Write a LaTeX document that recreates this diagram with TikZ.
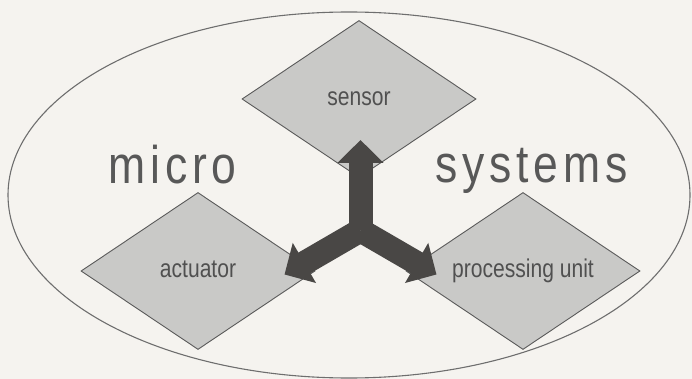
\documentclass[tikz,border=0pt]{standalone}
\usepackage{fontspec}
\setmainfont{Liberation Sans}
\newfontfamily\narrowfont[FakeStretch=0.82]{Liberation Sans}
\newfontfamily\titlefont[FakeStretch=0.84,LetterSpace=9]{Liberation Sans}
\usetikzlibrary{shapes.geometric,arrows.meta}
\definecolor{paper}{HTML}{F5F3EF}
\definecolor{boxfill}{HTML}{C9C9C7}
\definecolor{boxline}{HTML}{5A5A5A}
\definecolor{arrowgray}{HTML}{494745}
\definecolor{inkgray}{HTML}{505050}
\definecolor{titlegray}{HTML}{585858}
\definecolor{rimgray}{HTML}{6E6E6E}
\begin{document}
\begin{tikzpicture}[x=1pt,y=-1pt,
  unitbox/.style={diamond, draw=boxline, fill=boxfill, line width=0.9pt,
    minimum width=234pt, minimum height=157pt, inner sep=0pt, text=inkgray,
    font=\narrowfont\fontsize{25.7}{30}\selectfont, text height=13pt, text depth=0pt},
  bigword/.style={anchor=base, inner sep=0pt, text=titlegray,
    font=\titlefont\fontsize{53}{60}\selectfont},
  flow/.style={draw=arrowgray, fill=arrowgray, line width=24pt, line cap=butt,
    -{Triangle[width=45pt,length=23pt]}}]
  % page
  \fill[paper] (0,0) rectangle (692,379);
  \useasboundingbox (0,0) rectangle (692,379);
  % outer ellipse
  \node[ellipse, draw=rimgray, line width=1.1pt, minimum width=682pt,
        minimum height=366pt, inner sep=0pt] (frame) at (349,195) {};
  % the three units
  \node[unitbox] (sensor)   at (359,99)  {sensor};
  \node[unitbox] (actuator) at (198,271) {actuator};
  \node[unitbox] (proc)     at (523,271) {processing unit};
  % branching arrow
  \coordinate (hub)  at (360.5,230.4);
  \coordinate (tipS) at (360.5,140);
  \coordinate (tipA) at (284.5,274.5);
  \coordinate (tipP) at (436.5,274.5);
  \draw[flow] (hub) -- (tipS);
  \draw[flow] (hub) -- (tipA);
  \draw[flow] (hub) -- (tipP);
  % title words
  \node[bigword] (micro)   at (172.5,184) {micro};
  \node[bigword] (systems) at (531.5,183) {systems};
\end{tikzpicture}
\end{document}
